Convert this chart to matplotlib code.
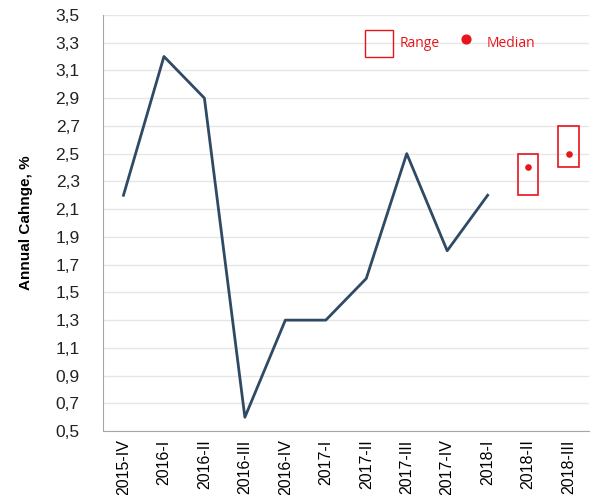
import matplotlib.pyplot as plt
import matplotlib
from matplotlib.patches import Rectangle
from matplotlib.ticker import FuncFormatter

matplotlib.rcParams['font.family'] = ['Liberation Sans Narrow', 'Liberation Sans', 'DejaVu Sans']

# data
quarters = ['2015-IV', '2016-I', '2016-II', '2016-III', '2016-IV', '2017-I',
            '2017-II', '2017-III', '2017-IV', '2018-I', '2018-II', '2018-III']
actual = [2.2, 3.2, 2.9, 0.6, 1.3, 1.3, 1.6, 2.5, 1.8, 2.2]
fc_low = [2.2, 2.4]
fc_high = [2.5, 2.7]
fc_median = [2.4, 2.5]

line_color = '#2F4A64'
red = '#E8141B'

fig = plt.figure(figsize=(5.9, 4.95), dpi=100)
ax = fig.add_axes([0.175, 0.129, 0.823, 0.841])

x = list(range(len(quarters)))
ax.plot(x[:len(actual)], actual, color=line_color, linewidth=2.0, zorder=3)

# forecast ranges + medians
fx = x[len(actual):]
for xi, lo, hi in zip(fx, fc_low, fc_high):
    ax.add_patch(Rectangle((xi - 0.25, lo), 0.5, hi - lo, fill=False,
                           edgecolor=red, linewidth=1.2, zorder=3))
ax.scatter(fx, fc_median, color=red, s=14, zorder=4)

ax.set_xlim(-0.5, 11.5)
ax.set_ylim(0.5, 3.5)
ax.set_yticks([0.5 + 0.2 * i for i in range(16)])
ax.yaxis.set_major_formatter(FuncFormatter(lambda v, p: f'{v:.1f}'.replace('.', ',')))
ax.set_xticks(x)
ax.set_xticklabels(quarters, rotation=90, fontsize=11.5)
ax.tick_params(axis='y', labelsize=12.5, length=0, pad=17, labelcolor='#222222')
ax.tick_params(axis='x', length=0, pad=6)
ax.set_ylabel('Annual Cahnge, %', fontsize=11, fontweight='bold', labelpad=16)

ax.grid(axis='y', color='#E6E6E6', linewidth=1)
ax.set_axisbelow(True)
for s in ['top', 'right']:
    ax.spines[s].set_visible(False)
for s in ['left', 'bottom']:
    ax.spines[s].set_color('#A6A6A6')

# legend drawn by hand
ax.add_patch(Rectangle((0.539, 0.899), 0.058, 0.065, transform=ax.transAxes,
                       fill=False, edgecolor=red, linewidth=1.0, clip_on=False))
ax.text(0.611, 0.930, 'Range', transform=ax.transAxes, color=red,
        fontsize=10, va='center', family=['Open Sans', 'DejaVu Sans'])
ax.scatter([0.747], [0.942], transform=ax.transAxes, color=red, s=40, clip_on=False)
ax.text(0.79, 0.930, 'Median', transform=ax.transAxes, color=red,
        fontsize=10, va='center', family=['Open Sans', 'DejaVu Sans'])

fig.savefig('out.png', dpi=100)
